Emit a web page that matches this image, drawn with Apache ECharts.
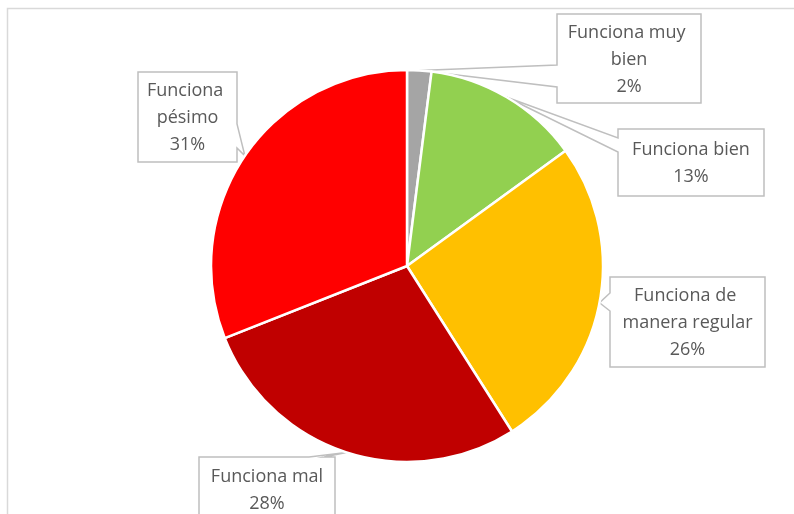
<!DOCTYPE html>
<html>
<head>
<meta charset="utf-8">
<script src="https://cdn.jsdelivr.net/npm/echarts@6/dist/echarts.min.js"></script>
<style>
  html, body { margin: 0; padding: 0; background: #ffffff; }
  #chart { width: 794px; height: 514px; }
</style>
</head>
<body>
<div id="chart"></div>
<script>
// Survey answers and their shares (percent)
const categories = ['Funciona muy bien', 'Funciona bien', 'Funciona de manera regular', 'Funciona mal', 'Funciona pésimo'];
const shares = [2, 13, 26, 28, 31];
const sliceColors = ['#a5a5a5', '#92d050', '#ffc000', '#c00000', '#ff0000'];

// Callout boxes: [left, top, width, height], text wrap width, side carrying the tail and the tail base span on it
const callouts = [
  { box: [557, 14, 144, 89], wrap: 130, side: 'left',  base: [65, 87] },
  { box: [618, 129, 146, 67], wrap: 140, side: 'left',  base: [138, 152] },
  { box: [610, 277, 155, 90], wrap: 145, side: 'left',  base: [293, 311] },
  { box: [199, 457, 136, 65], wrap: 130, side: 'top',   base: [309, 324] },
  { box: [138, 72, 99, 90],   wrap: 90,  side: 'right', base: [124, 148] }
];

const chart = echarts.init(document.getElementById('chart'), null, { renderer: 'canvas' });

const pieData = categories.map((name, i) => ({
  name: name,
  value: shares[i],
  itemStyle: { color: sliceColors[i] },
  label: { width: callouts[i].wrap }
}));

const frame = {
  type: 'rect',
  z: 0,
  silent: true,
  shape: { x: 7.5, y: 8.5, width: 830, height: 560 },
  style: { fill: 'none', stroke: '#d9d9d9', lineWidth: 1.5 }
};

const option = {
  animation: false,
  backgroundColor: '#ffffff',
  series: [{
    type: 'pie',
    center: [407, 266],
    radius: 196,
    startAngle: 90,
    clockwise: true,
    avoidLabelOverlap: false,
    itemStyle: { borderColor: '#ffffff', borderWidth: 2.5 },
    emphasis: { disabled: true },
    label: {
      show: true,
      position: 'outside',
      formatter: '{b}\n{d}%',
      color: '#595959',
      fontFamily: 'Open Sans',
      fontSize: 18,
      lineHeight: 27,
      align: 'center',
      overflow: 'break'
    },
    labelLine: { show: false },
    labelLayout: function (params) {
      const c = callouts[params.dataIndex];
      return {
        x: c.box[0] + c.box[2] / 2,
        y: c.box[1] + c.box[3] / 2 + 1,
        align: 'center',
        verticalAlign: 'middle'
      };
    },
    data: pieData
  }],
  graphic: [frame]
};

chart.setOption(option);

// Callout outlines: box plus a wedge tail pointing at the outer middle of each slice
function tailTip(i) {
  const data = chart.getModel().getSeriesByIndex(0).getData();
  const l = data.getItemLayout(i);
  const mid = (l.startAngle + l.endAngle) / 2;
  return [l.cx + l.r * Math.cos(mid), l.cy + l.r * Math.sin(mid)];
}

const calloutShapes = callouts.map((c, i) => {
  const [x, y, w, h] = c.box;
  const x2 = x + w, y2 = y + h;
  const tip = tailTip(i);
  let pts;
  if (c.side === 'top') {
    pts = [[x, y], [c.base[0], y], tip, [c.base[1], y], [x2, y], [x2, y2], [x, y2]];
  } else if (c.side === 'right') {
    pts = [[x, y], [x2, y], [x2, c.base[0]], tip, [x2, c.base[1]], [x2, y2], [x, y2]];
  } else {
    pts = [[x, y], [x2, y], [x2, y2], [x, y2], [x, c.base[1]], tip, [x, c.base[0]]];
  }
  return {
    type: 'polygon',
    z: 1,
    silent: true,
    shape: { points: pts },
    style: { fill: '#ffffff', stroke: '#bfbfbf', lineWidth: 1.5 }
  };
});

chart.setOption({ graphic: [frame].concat(calloutShapes) }, { replaceMerge: ['graphic'] });
</script>
</body>
</html>
